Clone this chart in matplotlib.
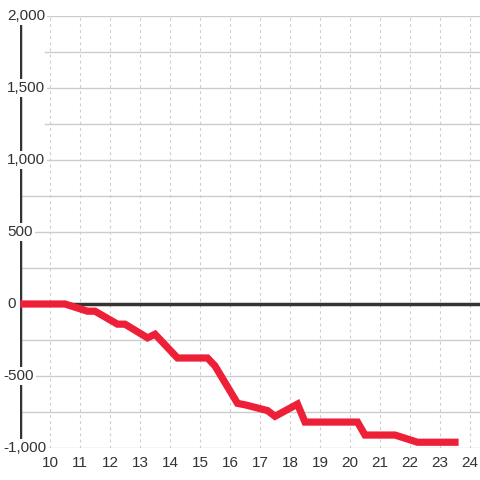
import matplotlib.pyplot as plt

plt.rcParams['font.family'] = ['Liberation Sans', 'DejaVu Sans']

# datos
horas = [9, 10.5, 11.25, 11.5, 12.25, 12.5, 13.25, 13.5, 14.25, 15.25, 15.5,
         16.25, 16.5, 17.25, 17.5, 18.25, 18.5, 20.25, 20.5, 21.5, 22.25, 23.5]
valores = [0, 0, -50, -50, -140, -140, -235, -210, -375, -375, -430,
           -690, -700, -740, -780, -695, -820, -820, -910, -910, -960, -960]
xticks = list(range(10, 25))
yticks = [-1000, -500, 0, 500, 1000, 1500, 2000]
ygrid = [-1000, -750, -500, -250, 250, 500, 750, 1000, 1250, 1500, 1750, 2000]

fig = plt.figure(figsize=(4.8, 4.8), dpi=100)
ax = fig.add_axes([20 / 480, 1 - 448 / 480, 460 / 480, 432 / 480])
ax.set_xlim(9, 9 + 460 / 30)
ax.set_ylim(-1000, 2000)

for s in ax.spines.values():
    s.set_visible(False)

# grilla
for y in ygrid:
    inicio = 25 / 460 if y >= 1000 else 2 / 460
    ax.axhline(y, xmin=inicio, color='#cccccc', lw=1, zorder=1)
for x in xticks:
    ax.axvline(x, color='#cccccc', lw=0.8, ls=(0, (2.5, 3)), zorder=1)

ax.axhline(0, color='#333333', lw=2.5, zorder=2)
ax.axvline(9, color='#333333', lw=2.5, zorder=2)

ax.plot(horas, valores, color='#ee2038', lw=5.2, zorder=6,
        solid_joinstyle='miter', solid_capstyle='projecting')

# etiquetas del eje y
for y in yticks:
    xpos = 9 - 17 / 30 if y < 0 else 9 - 13 / 30
    ax.text(xpos, y, format(y, ','), ha='left', va='center', fontsize=11,
            color='#333333', zorder=5, clip_on=False,
            bbox=dict(facecolor='white', edgecolor='none', pad=1.5))

ax.set_yticks([])
ax.set_xticks(xticks)
ax.set_xticklabels([str(x) for x in xticks])
ax.tick_params(axis='x', length=0, pad=6, labelsize=11, labelcolor='#333333')

fig.savefig('out.png', dpi=100)
